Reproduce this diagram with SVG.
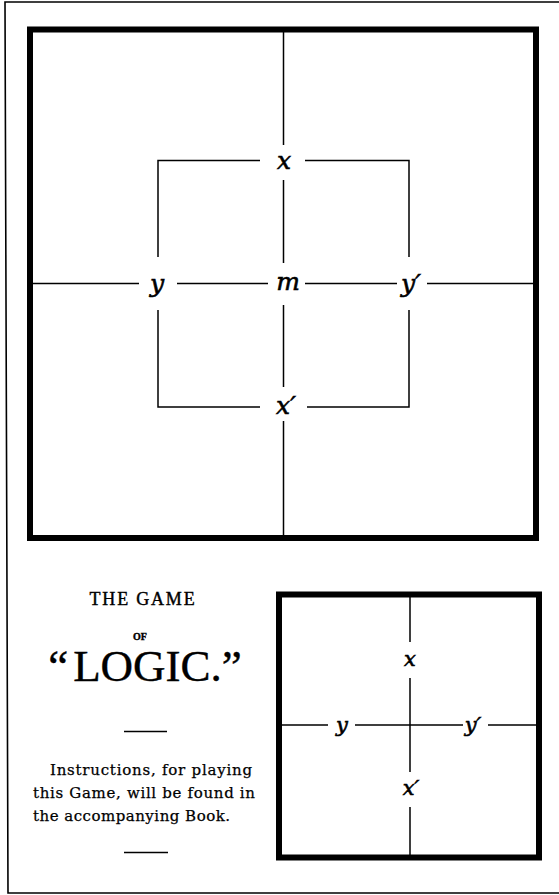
<svg xmlns="http://www.w3.org/2000/svg" width="559" height="895" viewBox="0 0 559 895">
<style>
.frame{fill:none;stroke:#000;stroke-width:1.6}
.box{fill:none;stroke:#000;stroke-width:6}
.ln{fill:none;stroke:#000;stroke-width:1.5}
.var{font-family:"DejaVu Serif","Liberation Serif",serif;font-style:italic;fill:#000;stroke:#000;stroke-width:0.6;text-anchor:middle;dominant-baseline:central}
.big{font-size:25px}
.small{font-size:21px}
.txt{font-family:"DejaVu Serif","Liberation Serif",serif;fill:#000;stroke:#000;stroke-width:0.25}
.cap{font-family:"Liberation Serif","DejaVu Serif",serif;fill:#000;stroke:#000;stroke-width:0.4}
</style>
<rect width="559" height="895" fill="#fff"/>
<path class="frame" d="M559 2 L5 2 L8 893 L559 893"/>

<g id="board-large">
<rect class="box" x="30" y="29.5" width="506" height="508.5"/>
<g id="connectors-large">
<path class="ln" d="M283.5 32 V145 M283.5 180 V263 M283.5 305 V387 M283.5 421 V536"/>
<path class="ln" d="M33 283.5 H139 M177 283.5 H268 M305 283.5 H397 M427 283.5 H534"/>
<path class="ln" d="M260 160.5 H158 V257 M305 160.5 H409 V257"/>
<path class="ln" d="M158 310 V407 H260 M409 310 V407 H307"/>
</g>
<g id="lbl-x"><text class="var big" x="284" y="160">x</text></g>
<g id="lbl-y"><text class="var big" x="157" y="283">y</text></g>
<g id="lbl-m"><text class="var big" x="288" y="281">m</text></g>
<g id="lbl-y2"><text class="var big" x="411" y="283">y′</text></g>
<g id="lbl-x2"><text class="var big" x="286" y="405">x′</text></g>
</g>

<g id="title">
<text class="cap" x="143" y="605" font-size="18" text-anchor="middle" letter-spacing="1.8">THE GAME</text>
<text class="cap" x="140" y="640" font-size="10" text-anchor="middle" font-weight="bold">OF</text>
<text class="cap" x="145" y="681" font-size="45" text-anchor="middle">“<tspan dx="5">LOGIC.”</tspan></text>
<path class="ln" d="M124 731.5 H167"/>
<text class="txt" x="50" y="775" font-size="15" textLength="202" lengthAdjust="spacing">Instructions, for playing</text>
<text class="txt" x="33" y="798" font-size="15" textLength="222" lengthAdjust="spacing">this Game, will be found in</text>
<text class="txt" x="33" y="821" font-size="15" textLength="197" lengthAdjust="spacing">the accompanying Book.</text>
<path class="ln" d="M124 852.5 H168"/>
</g>

<g id="board-small">
<rect class="box" x="279" y="594.5" width="260" height="263"/>
<g id="connectors-small">
<path class="ln" d="M410 597 V642 M410 678 V772 M410 807 V855"/>
<path class="ln" d="M282 725 H328 M355 725 H463 M488 725 H537"/>
</g>
<g id="s-lbl-x"><text class="var small" x="410" y="659">x</text></g>
<g id="s-lbl-y"><text class="var small" x="342" y="725">y</text></g>
<g id="s-lbl-y2"><text class="var small" x="473" y="725">y′</text></g>
<g id="s-lbl-x2"><text class="var small" x="411" y="788">x′</text></g>
</g>
</svg>
